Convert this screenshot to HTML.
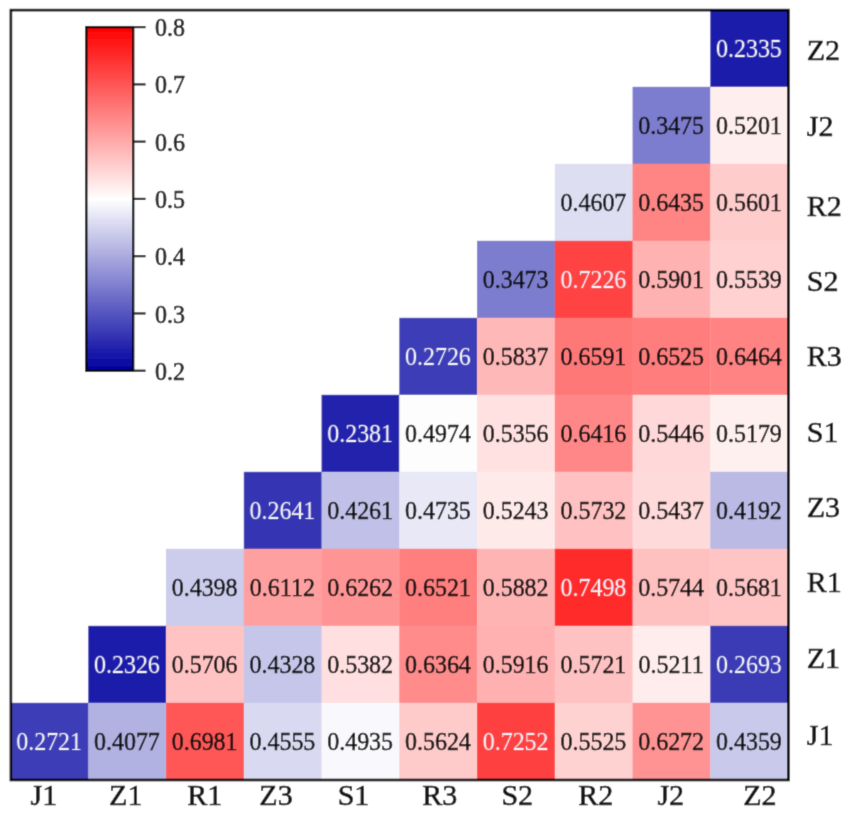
<!DOCTYPE html>
<html><head><meta charset="utf-8"><style>
html,body{margin:0;padding:0;background:#fff;width:851px;height:817px;overflow:hidden}
svg{display:block}
text{font-family:"Liberation Serif",serif}
.v{font-size:24px;text-anchor:middle}
.l{font-size:30px;fill:#111;stroke:#111;stroke-width:0.6px}
.t{font-size:24px;fill:#222;stroke:#222;stroke-width:0.6px}
</style></head><body>
<svg width="851" height="817" viewBox="0 0 851 817">
<defs><filter id="bl" x="0" y="0" width="1" height="1"><feConvolveMatrix order="3" kernelMatrix="1 6 1 6 36 6 1 6 1" edgeMode="duplicate" preserveAlpha="true"/></filter><linearGradient id="g" x1="0" y1="0" x2="0" y2="1"><stop offset="0.0000" stop-color="#ff0000"/><stop offset="0.0167" stop-color="#ff0808"/><stop offset="0.0333" stop-color="#ff1111"/><stop offset="0.0500" stop-color="#ff1919"/><stop offset="0.0667" stop-color="#ff2222"/><stop offset="0.0833" stop-color="#ff2a2a"/><stop offset="0.1000" stop-color="#ff3333"/><stop offset="0.1167" stop-color="#ff3b3b"/><stop offset="0.1333" stop-color="#ff4444"/><stop offset="0.1500" stop-color="#ff4c4c"/><stop offset="0.1667" stop-color="#ff5555"/><stop offset="0.1833" stop-color="#ff5d5d"/><stop offset="0.2000" stop-color="#ff6666"/><stop offset="0.2167" stop-color="#ff6e6e"/><stop offset="0.2333" stop-color="#ff7777"/><stop offset="0.2500" stop-color="#ff8080"/><stop offset="0.2667" stop-color="#ff8888"/><stop offset="0.2833" stop-color="#ff9090"/><stop offset="0.3000" stop-color="#ff9999"/><stop offset="0.3167" stop-color="#ffa1a1"/><stop offset="0.3333" stop-color="#ffaaaa"/><stop offset="0.3500" stop-color="#ffb2b2"/><stop offset="0.3667" stop-color="#ffbbbb"/><stop offset="0.3833" stop-color="#ffc3c3"/><stop offset="0.4000" stop-color="#ffcccc"/><stop offset="0.4167" stop-color="#ffd4d4"/><stop offset="0.4333" stop-color="#ffdddd"/><stop offset="0.4500" stop-color="#ffe5e5"/><stop offset="0.4667" stop-color="#ffeeee"/><stop offset="0.4833" stop-color="#fff6f6"/><stop offset="0.5000" stop-color="#ffffff"/><stop offset="0.5167" stop-color="#f7f7fc"/><stop offset="0.5333" stop-color="#eeeef9"/><stop offset="0.5500" stop-color="#e6e6f6"/><stop offset="0.5667" stop-color="#ddddf2"/><stop offset="0.5833" stop-color="#d4d4ef"/><stop offset="0.6000" stop-color="#ccccec"/><stop offset="0.6167" stop-color="#c4c4e9"/><stop offset="0.6333" stop-color="#bbbbe6"/><stop offset="0.6500" stop-color="#b3b3e2"/><stop offset="0.6667" stop-color="#aaaadf"/><stop offset="0.6833" stop-color="#a2a2dc"/><stop offset="0.7000" stop-color="#9999d9"/><stop offset="0.7167" stop-color="#9191d6"/><stop offset="0.7333" stop-color="#8888d3"/><stop offset="0.7500" stop-color="#8080d0"/><stop offset="0.7667" stop-color="#7777cc"/><stop offset="0.7833" stop-color="#6e6ec9"/><stop offset="0.8000" stop-color="#6666c6"/><stop offset="0.8167" stop-color="#5e5ec3"/><stop offset="0.8333" stop-color="#5555c0"/><stop offset="0.8500" stop-color="#4d4dbc"/><stop offset="0.8667" stop-color="#4444b9"/><stop offset="0.8833" stop-color="#3c3cb6"/><stop offset="0.9000" stop-color="#3333b3"/><stop offset="0.9167" stop-color="#2a2ab0"/><stop offset="0.9333" stop-color="#2222ad"/><stop offset="0.9500" stop-color="#1919aa"/><stop offset="0.9667" stop-color="#1111a6"/><stop offset="0.9833" stop-color="#0909a3"/><stop offset="1.0000" stop-color="#0000a0"/></linearGradient></defs>
<g filter="url(#bl)">
<rect x="0" y="0" width="851" height="817" fill="#fff"/>
<rect x="710.30" y="9.80" width="78.15" height="77.40" fill="#1c1cab"/>
<rect x="632.55" y="86.80" width="78.15" height="77.40" fill="#7d7dcf"/>
<rect x="710.30" y="86.80" width="78.15" height="77.40" fill="#ffeeee"/>
<rect x="554.80" y="163.80" width="78.15" height="77.40" fill="#dedef3"/>
<rect x="632.55" y="163.80" width="78.15" height="77.40" fill="#ff8585"/>
<rect x="710.30" y="163.80" width="78.15" height="77.40" fill="#ffcccc"/>
<rect x="477.05" y="240.80" width="78.15" height="77.40" fill="#7d7dcf"/>
<rect x="554.80" y="240.80" width="78.15" height="77.40" fill="#ff4242"/>
<rect x="632.55" y="240.80" width="78.15" height="77.40" fill="#ffb2b2"/>
<rect x="710.30" y="240.80" width="78.15" height="77.40" fill="#ffd1d1"/>
<rect x="399.30" y="317.80" width="78.15" height="77.40" fill="#3e3eb7"/>
<rect x="477.05" y="317.80" width="78.15" height="77.40" fill="#ffb8b8"/>
<rect x="554.80" y="317.80" width="78.15" height="77.40" fill="#ff7878"/>
<rect x="632.55" y="317.80" width="78.15" height="77.40" fill="#ff7d7d"/>
<rect x="710.30" y="317.80" width="78.15" height="77.40" fill="#ff8383"/>
<rect x="321.55" y="394.80" width="78.15" height="77.40" fill="#2020ac"/>
<rect x="399.30" y="394.80" width="78.15" height="77.40" fill="#fdfdfe"/>
<rect x="477.05" y="394.80" width="78.15" height="77.40" fill="#ffe1e1"/>
<rect x="554.80" y="394.80" width="78.15" height="77.40" fill="#ff8787"/>
<rect x="632.55" y="394.80" width="78.15" height="77.40" fill="#ffd9d9"/>
<rect x="710.30" y="394.80" width="78.15" height="77.40" fill="#fff0f0"/>
<rect x="243.80" y="471.80" width="78.15" height="77.40" fill="#3636b4"/>
<rect x="321.55" y="471.80" width="78.15" height="77.40" fill="#c0c0e8"/>
<rect x="399.30" y="471.80" width="78.15" height="77.40" fill="#e8e8f7"/>
<rect x="477.05" y="471.80" width="78.15" height="77.40" fill="#ffeaea"/>
<rect x="554.80" y="471.80" width="78.15" height="77.40" fill="#ffc1c1"/>
<rect x="632.55" y="471.80" width="78.15" height="77.40" fill="#ffdada"/>
<rect x="710.30" y="471.80" width="78.15" height="77.40" fill="#babae5"/>
<rect x="166.05" y="548.80" width="78.15" height="77.40" fill="#ccccec"/>
<rect x="243.80" y="548.80" width="78.15" height="77.40" fill="#ffa0a0"/>
<rect x="321.55" y="548.80" width="78.15" height="77.40" fill="#ff9494"/>
<rect x="399.30" y="548.80" width="78.15" height="77.40" fill="#ff7e7e"/>
<rect x="477.05" y="548.80" width="78.15" height="77.40" fill="#ffb4b4"/>
<rect x="554.80" y="548.80" width="78.15" height="77.40" fill="#ff2b2b"/>
<rect x="632.55" y="548.80" width="78.15" height="77.40" fill="#ffc0c0"/>
<rect x="710.30" y="548.80" width="78.15" height="77.40" fill="#ffc5c5"/>
<rect x="88.30" y="625.80" width="78.15" height="77.40" fill="#1c1caa"/>
<rect x="166.05" y="625.80" width="78.15" height="77.40" fill="#ffc3c3"/>
<rect x="243.80" y="625.80" width="78.15" height="77.40" fill="#c6c6ea"/>
<rect x="321.55" y="625.80" width="78.15" height="77.40" fill="#ffdfdf"/>
<rect x="399.30" y="625.80" width="78.15" height="77.40" fill="#ff8b8b"/>
<rect x="477.05" y="625.80" width="78.15" height="77.40" fill="#ffb1b1"/>
<rect x="554.80" y="625.80" width="78.15" height="77.40" fill="#ffc2c2"/>
<rect x="632.55" y="625.80" width="78.15" height="77.40" fill="#ffeded"/>
<rect x="710.30" y="625.80" width="78.15" height="77.40" fill="#3b3bb6"/>
<rect x="10.55" y="702.80" width="78.15" height="77.40" fill="#3d3db7"/>
<rect x="88.30" y="702.80" width="78.15" height="77.40" fill="#b1b1e2"/>
<rect x="166.05" y="702.80" width="78.15" height="77.40" fill="#ff5757"/>
<rect x="243.80" y="702.80" width="78.15" height="77.40" fill="#d9d9f1"/>
<rect x="321.55" y="702.80" width="78.15" height="77.40" fill="#f9f9fd"/>
<rect x="399.30" y="702.80" width="78.15" height="77.40" fill="#ffcaca"/>
<rect x="477.05" y="702.80" width="78.15" height="77.40" fill="#ff4040"/>
<rect x="554.80" y="702.80" width="78.15" height="77.40" fill="#ffd2d2"/>
<rect x="632.55" y="702.80" width="78.15" height="77.40" fill="#ff9393"/>
<rect x="710.30" y="702.80" width="78.15" height="77.40" fill="#c9c9eb"/>
<text transform="translate(748.88 57.00) scale(1.0 1.07)" class="v" fill="#eeeef6" stroke="#eeeef6" stroke-width="0.0">0.2335</text>
<text transform="translate(671.12 134.00) scale(1.0 1.07)" class="v" fill="#111" stroke="#111" stroke-width="0.45">0.3475</text>
<text transform="translate(748.88 134.00) scale(1.0 1.07)" class="v" fill="#111" stroke="#111" stroke-width="0.45">0.5201</text>
<text transform="translate(593.38 211.00) scale(1.0 1.07)" class="v" fill="#111" stroke="#111" stroke-width="0.45">0.4607</text>
<text transform="translate(671.12 211.00) scale(1.0 1.07)" class="v" fill="#111" stroke="#111" stroke-width="0.45">0.6435</text>
<text transform="translate(748.88 211.00) scale(1.0 1.07)" class="v" fill="#111" stroke="#111" stroke-width="0.45">0.5601</text>
<text transform="translate(515.62 288.00) scale(1.0 1.07)" class="v" fill="#111" stroke="#111" stroke-width="0.45">0.3473</text>
<text transform="translate(593.38 288.00) scale(1.0 1.07)" class="v" fill="#eeeef6" stroke="#eeeef6" stroke-width="0.0">0.7226</text>
<text transform="translate(671.12 288.00) scale(1.0 1.07)" class="v" fill="#111" stroke="#111" stroke-width="0.45">0.5901</text>
<text transform="translate(748.88 288.00) scale(1.0 1.07)" class="v" fill="#111" stroke="#111" stroke-width="0.45">0.5539</text>
<text transform="translate(437.88 365.00) scale(1.0 1.07)" class="v" fill="#eeeef6" stroke="#eeeef6" stroke-width="0.0">0.2726</text>
<text transform="translate(515.62 365.00) scale(1.0 1.07)" class="v" fill="#111" stroke="#111" stroke-width="0.45">0.5837</text>
<text transform="translate(593.38 365.00) scale(1.0 1.07)" class="v" fill="#111" stroke="#111" stroke-width="0.45">0.6591</text>
<text transform="translate(671.12 365.00) scale(1.0 1.07)" class="v" fill="#111" stroke="#111" stroke-width="0.45">0.6525</text>
<text transform="translate(748.88 365.00) scale(1.0 1.07)" class="v" fill="#111" stroke="#111" stroke-width="0.45">0.6464</text>
<text transform="translate(360.12 442.00) scale(1.0 1.07)" class="v" fill="#eeeef6" stroke="#eeeef6" stroke-width="0.0">0.2381</text>
<text transform="translate(437.88 442.00) scale(1.0 1.07)" class="v" fill="#111" stroke="#111" stroke-width="0.45">0.4974</text>
<text transform="translate(515.62 442.00) scale(1.0 1.07)" class="v" fill="#111" stroke="#111" stroke-width="0.45">0.5356</text>
<text transform="translate(593.38 442.00) scale(1.0 1.07)" class="v" fill="#111" stroke="#111" stroke-width="0.45">0.6416</text>
<text transform="translate(671.12 442.00) scale(1.0 1.07)" class="v" fill="#111" stroke="#111" stroke-width="0.45">0.5446</text>
<text transform="translate(748.88 442.00) scale(1.0 1.07)" class="v" fill="#111" stroke="#111" stroke-width="0.45">0.5179</text>
<text transform="translate(282.38 519.00) scale(1.0 1.07)" class="v" fill="#eeeef6" stroke="#eeeef6" stroke-width="0.0">0.2641</text>
<text transform="translate(360.12 519.00) scale(1.0 1.07)" class="v" fill="#111" stroke="#111" stroke-width="0.45">0.4261</text>
<text transform="translate(437.88 519.00) scale(1.0 1.07)" class="v" fill="#111" stroke="#111" stroke-width="0.45">0.4735</text>
<text transform="translate(515.62 519.00) scale(1.0 1.07)" class="v" fill="#111" stroke="#111" stroke-width="0.45">0.5243</text>
<text transform="translate(593.38 519.00) scale(1.0 1.07)" class="v" fill="#111" stroke="#111" stroke-width="0.45">0.5732</text>
<text transform="translate(671.12 519.00) scale(1.0 1.07)" class="v" fill="#111" stroke="#111" stroke-width="0.45">0.5437</text>
<text transform="translate(748.88 519.00) scale(1.0 1.07)" class="v" fill="#111" stroke="#111" stroke-width="0.45">0.4192</text>
<text transform="translate(204.62 596.00) scale(1.0 1.07)" class="v" fill="#111" stroke="#111" stroke-width="0.45">0.4398</text>
<text transform="translate(282.38 596.00) scale(1.0 1.07)" class="v" fill="#111" stroke="#111" stroke-width="0.45">0.6112</text>
<text transform="translate(360.12 596.00) scale(1.0 1.07)" class="v" fill="#111" stroke="#111" stroke-width="0.45">0.6262</text>
<text transform="translate(437.88 596.00) scale(1.0 1.07)" class="v" fill="#111" stroke="#111" stroke-width="0.45">0.6521</text>
<text transform="translate(515.62 596.00) scale(1.0 1.07)" class="v" fill="#111" stroke="#111" stroke-width="0.45">0.5882</text>
<text transform="translate(593.38 596.00) scale(1.0 1.07)" class="v" fill="#eeeef6" stroke="#eeeef6" stroke-width="0.0">0.7498</text>
<text transform="translate(671.12 596.00) scale(1.0 1.07)" class="v" fill="#111" stroke="#111" stroke-width="0.45">0.5744</text>
<text transform="translate(748.88 596.00) scale(1.0 1.07)" class="v" fill="#111" stroke="#111" stroke-width="0.45">0.5681</text>
<text transform="translate(126.88 673.00) scale(1.0 1.07)" class="v" fill="#eeeef6" stroke="#eeeef6" stroke-width="0.0">0.2326</text>
<text transform="translate(204.62 673.00) scale(1.0 1.07)" class="v" fill="#111" stroke="#111" stroke-width="0.45">0.5706</text>
<text transform="translate(282.38 673.00) scale(1.0 1.07)" class="v" fill="#111" stroke="#111" stroke-width="0.45">0.4328</text>
<text transform="translate(360.12 673.00) scale(1.0 1.07)" class="v" fill="#111" stroke="#111" stroke-width="0.45">0.5382</text>
<text transform="translate(437.88 673.00) scale(1.0 1.07)" class="v" fill="#111" stroke="#111" stroke-width="0.45">0.6364</text>
<text transform="translate(515.62 673.00) scale(1.0 1.07)" class="v" fill="#111" stroke="#111" stroke-width="0.45">0.5916</text>
<text transform="translate(593.38 673.00) scale(1.0 1.07)" class="v" fill="#111" stroke="#111" stroke-width="0.45">0.5721</text>
<text transform="translate(671.12 673.00) scale(1.0 1.07)" class="v" fill="#111" stroke="#111" stroke-width="0.45">0.5211</text>
<text transform="translate(748.88 673.00) scale(1.0 1.07)" class="v" fill="#eeeef6" stroke="#eeeef6" stroke-width="0.0">0.2693</text>
<text transform="translate(49.12 750.00) scale(1.0 1.07)" class="v" fill="#eeeef6" stroke="#eeeef6" stroke-width="0.0">0.2721</text>
<text transform="translate(126.88 750.00) scale(1.0 1.07)" class="v" fill="#111" stroke="#111" stroke-width="0.45">0.4077</text>
<text transform="translate(204.62 750.00) scale(1.0 1.07)" class="v" fill="#111" stroke="#111" stroke-width="0.45">0.6981</text>
<text transform="translate(282.38 750.00) scale(1.0 1.07)" class="v" fill="#111" stroke="#111" stroke-width="0.45">0.4555</text>
<text transform="translate(360.12 750.00) scale(1.0 1.07)" class="v" fill="#111" stroke="#111" stroke-width="0.45">0.4935</text>
<text transform="translate(437.88 750.00) scale(1.0 1.07)" class="v" fill="#111" stroke="#111" stroke-width="0.45">0.5624</text>
<text transform="translate(515.62 750.00) scale(1.0 1.07)" class="v" fill="#eeeef6" stroke="#eeeef6" stroke-width="0.0">0.7252</text>
<text transform="translate(593.38 750.00) scale(1.0 1.07)" class="v" fill="#111" stroke="#111" stroke-width="0.45">0.5525</text>
<text transform="translate(671.12 750.00) scale(1.0 1.07)" class="v" fill="#111" stroke="#111" stroke-width="0.45">0.6272</text>
<text transform="translate(748.88 750.00) scale(1.0 1.07)" class="v" fill="#111" stroke="#111" stroke-width="0.45">0.4359</text>
<rect x="10.9" y="10.1" width="777.5" height="769.9" fill="none" stroke="#000" stroke-width="2.6"/>
<text x="806.80" y="59.50" class="l">Z2</text>
<text x="806.80" y="135.50" class="l">J2</text>
<text x="806.80" y="215.50" class="l">R2</text>
<text x="806.80" y="290.60" class="l">S2</text>
<text x="806.80" y="366.00" class="l">R3</text>
<text x="806.80" y="441.50" class="l">S1</text>
<text x="806.80" y="516.80" class="l">Z3</text>
<text x="806.80" y="591.50" class="l">R1</text>
<text x="806.80" y="668.30" class="l">Z1</text>
<text x="806.80" y="745.00" class="l">J1</text>
<text x="43.95" y="804.7" class="l" text-anchor="middle">J1</text>
<text x="125.75" y="804.7" class="l" text-anchor="middle">Z1</text>
<text x="204.70" y="804.7" class="l" text-anchor="middle">R1</text>
<text x="276.00" y="804.7" class="l" text-anchor="middle">Z3</text>
<text x="353.50" y="804.7" class="l" text-anchor="middle">S1</text>
<text x="439.80" y="804.7" class="l" text-anchor="middle">R3</text>
<text x="517.25" y="804.7" class="l" text-anchor="middle">S2</text>
<text x="595.75" y="804.7" class="l" text-anchor="middle">R2</text>
<text x="670.75" y="804.7" class="l" text-anchor="middle">J2</text>
<text x="759.80" y="804.7" class="l" text-anchor="middle">Z2</text>
<rect x="86.3" y="27.1" width="46.90" height="343.60" fill="url(#g)" stroke="#000" stroke-width="2.3"/>
<line x1="133.2" y1="27.10" x2="145.6" y2="27.10" stroke="#222" stroke-width="2.2"/>
<text transform="translate(155 36.20) scale(1 1.07)" class="t">0.8</text>
<line x1="133.2" y1="84.37" x2="145.6" y2="84.37" stroke="#222" stroke-width="2.2"/>
<text transform="translate(155 93.47) scale(1 1.07)" class="t">0.7</text>
<line x1="133.2" y1="141.63" x2="145.6" y2="141.63" stroke="#222" stroke-width="2.2"/>
<text transform="translate(155 150.73) scale(1 1.07)" class="t">0.6</text>
<line x1="133.2" y1="198.90" x2="145.6" y2="198.90" stroke="#222" stroke-width="2.2"/>
<text transform="translate(155 208.00) scale(1 1.07)" class="t">0.5</text>
<line x1="133.2" y1="256.17" x2="145.6" y2="256.17" stroke="#222" stroke-width="2.2"/>
<text transform="translate(155 265.27) scale(1 1.07)" class="t">0.4</text>
<line x1="133.2" y1="313.43" x2="145.6" y2="313.43" stroke="#222" stroke-width="2.2"/>
<text transform="translate(155 322.53) scale(1 1.07)" class="t">0.3</text>
<line x1="133.2" y1="370.70" x2="145.6" y2="370.70" stroke="#222" stroke-width="2.2"/>
<text transform="translate(155 379.80) scale(1 1.07)" class="t">0.2</text>
</g>
</svg>
</body></html>
